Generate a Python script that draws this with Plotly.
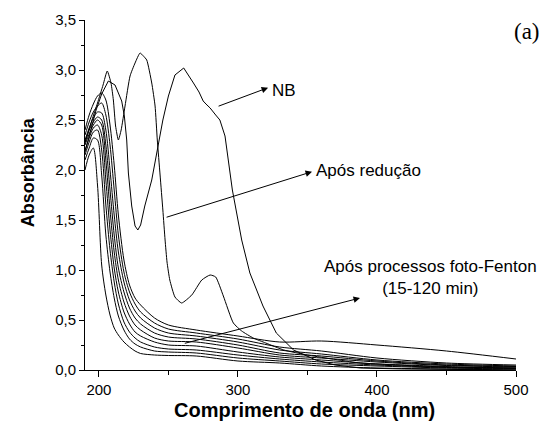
import plotly.graph_objects as go

# ---------------- data ----------------
# Nitrobenzene (NB)
nb_wl = [190, 194, 198, 202, 206.8, 211.6, 214, 216.4, 218.3, 220, 221.2, 223.6, 226, 228, 230, 233,
         238, 243, 246, 250, 254.7, 261, 264, 268, 272, 275, 277, 280, 284, 287, 290.7, 293, 296,
         302.7, 308.6, 318, 327.6, 340, 356, 370, 388, 420, 460, 500]
nb_abs = [2.18, 2.40, 2.60, 2.76, 2.89, 2.85, 2.77, 2.69, 2.54, 2.30, 1.97, 1.64, 1.44, 1.40, 1.45, 1.64,
          1.90, 2.27, 2.50, 2.74, 2.95, 3.02, 2.95, 2.87, 2.78, 2.69, 2.66, 2.62, 2.55, 2.50, 2.34, 2.10, 1.80,
          1.30, 0.97, 0.64, 0.37, 0.20, 0.10, 0.05, 0.02, 0.01, 0.005, 0.0]

# After reduction
red_wl = [190, 195, 199, 203, 206, 208.7, 210.4, 212, 214, 216, 218.8, 222.4, 226, 229.6, 232, 234.4,
          238, 240.4, 242, 244, 246, 247.6, 249, 251, 254.7, 259.5, 266.8, 274, 280, 284, 289.5,
          296.7, 302.7, 311, 320, 333, 350, 388, 420, 460, 500]
red_abs = [2.27, 2.50, 2.67, 2.85, 2.99, 2.87, 2.70, 2.44, 2.30, 2.40, 2.64, 2.94, 3.07, 3.17, 3.14, 3.10,
           2.87, 2.64, 2.30, 1.95, 1.60, 1.30, 1.08, 0.90, 0.73, 0.67, 0.75, 0.90, 0.95, 0.93, 0.74,
           0.47, 0.39, 0.32, 0.27, 0.20, 0.15, 0.07, 0.05, 0.03, 0.02]

# After photo-Fenton (15-120 min)
fen_wl = [190, 193, 196, 199, 202, 205, 208, 211, 214, 218, 222, 226, 230, 240, 250, 270, 300, 330,
          360, 400, 450, 500]
fen_1 = [2.40, 2.55, 2.66, 2.74, 2.77, 2.70, 2.45, 2.05, 1.55, 1.10, 0.85, 0.72, 0.65, 0.52, 0.45, 0.40,
         0.34, 0.28, 0.29, 0.25, 0.19, 0.11]
fen_2 = [2.35, 2.48, 2.58, 2.64, 2.67, 2.55, 2.25, 1.80, 1.35, 0.98, 0.78, 0.66, 0.58, 0.47, 0.41, 0.37,
         0.31, 0.23, 0.19, 0.12, 0.07, 0.05]
fen_3 = [2.30, 2.42, 2.52, 2.58, 2.57, 2.40, 2.00, 1.55, 1.18, 0.88, 0.70, 0.59, 0.52, 0.42, 0.37, 0.34,
         0.28, 0.20, 0.16, 0.10, 0.06, 0.04]
fen_4 = [2.28, 2.40, 2.48, 2.53, 2.50, 2.25, 1.80, 1.35, 1.02, 0.78, 0.62, 0.52, 0.46, 0.37, 0.33, 0.31,
         0.25, 0.17, 0.14, 0.09, 0.05, 0.035]
fen_5 = [2.25, 2.36, 2.45, 2.50, 2.45, 2.10, 1.60, 1.18, 0.90, 0.68, 0.54, 0.45, 0.40, 0.32, 0.29, 0.28,
         0.22, 0.15, 0.12, 0.08, 0.045, 0.03]
fen_6 = [2.20, 2.32, 2.42, 2.45, 2.35, 1.90, 1.40, 1.02, 0.78, 0.58, 0.46, 0.38, 0.34, 0.28, 0.25, 0.24,
         0.18, 0.13, 0.10, 0.06, 0.03, 0.02]
fen_7 = [2.15, 2.28, 2.38, 2.40, 2.20, 1.65, 1.20, 0.88, 0.66, 0.48, 0.38, 0.32, 0.28, 0.23, 0.21, 0.20,
         0.15, 0.11, 0.08, 0.05, 0.025, 0.015]
fen_8 = [2.10, 2.22, 2.32, 2.30, 1.95, 1.35, 0.98, 0.72, 0.54, 0.40, 0.31, 0.26, 0.23, 0.19, 0.18, 0.17,
         0.12, 0.09, 0.06, 0.04, 0.02, 0.01]
fen_9 = [2.00, 2.15, 2.22, 1.85, 1.05, 0.75, 0.55, 0.42, 0.35, 0.28, 0.23, 0.19, 0.165, 0.15, 0.145, 0.14,
         0.09, 0.07, 0.04, 0.02, 0.01, 0.0]
fenton_series = [fen_1, fen_2, fen_3, fen_4, fen_5, fen_6, fen_7, fen_8, fen_9]

y_tickvals = [0, 0.5, 1.0, 1.5, 2.0, 2.5, 3.0, 3.5]
y_ticktext = ["0,0", "0,5", "1,0", "1,5", "2,0", "2,5", "3,0", "3,5"]
x_tickvals = [200, 300, 400, 500]
x_ticktext = ["200", "300", "400", "500"]

# ---------------- figure ----------------
SANS = "Liberation Sans, Arial, sans-serif"
line_style = dict(color="black", width=1)

fig = go.Figure()
for ys in fenton_series:
    fig.add_trace(go.Scatter(x=fen_wl, y=ys, mode="lines",
                             line=dict(color="black", width=1, shape="spline", smoothing=0.8),
                             showlegend=False, hoverinfo="skip"))
fig.add_trace(go.Scatter(x=red_wl, y=red_abs, mode="lines",
                         line=dict(color="black", width=1, shape="spline", smoothing=0.5),
                         showlegend=False, hoverinfo="skip"))
fig.add_trace(go.Scatter(x=nb_wl, y=nb_abs, mode="lines", line=line_style,
                         showlegend=False, hoverinfo="skip"))

arrow_common = dict(xref="x", yref="y", axref="x", ayref="y", text="", showarrow=True,
                    arrowhead=2, arrowsize=1.3, arrowwidth=1, arrowcolor="black")
label_font = dict(family=SANS, size=17, color="black")
annotations = [
    dict(x=321.7, y=2.823, ax=285, ay=2.633, **arrow_common),
    dict(x=353.3, y=1.983, ax=247.6, ay=1.523, **arrow_common),
    dict(x=387.8, y=0.72, ax=260.7, ay=0.263, **arrow_common),
    dict(x=323.0, y=2.80, xref="x", yref="y", text="NB", showarrow=False,
         xanchor="left", yanchor="middle", font=label_font),
    dict(x=354.7, y=2.00, xref="x", yref="y", text="Após redução", showarrow=False,
         xanchor="left", yanchor="middle", font=label_font),
    dict(x=438.5, y=0.925, xref="x", yref="y", text="Após processos foto-Fenton<br>(15-120 min)",
         showarrow=False, xanchor="center", yanchor="middle", align="center", font=label_font),
    dict(x=1.025, y=0.967, xref="paper", yref="paper", text="(a)", showarrow=False,
         xanchor="center", yanchor="middle",
         font=dict(family="Liberation Serif, Times New Roman, serif", size=23, color="black")),
    dict(x=0.51, y=-0.113, xref="paper", yref="paper", text="<b>Comprimento de onda (nm)</b>",
         showarrow=False, xanchor="center", yanchor="middle",
         font=dict(family=SANS, size=20, color="black")),
    dict(x=-0.132, y=0.565, xref="paper", yref="paper", text="<b>Absorbância</b>", textangle=-90,
         showarrow=False, xanchor="center", yanchor="middle",
         font=dict(family=SANS, size=18, color="black")),
]

fig.update_layout(
    width=549, height=425,
    margin=dict(l=85, r=33, t=20, b=55, pad=0),
    paper_bgcolor="white", plot_bgcolor="white",
    annotations=annotations,
    showlegend=False,
    xaxis=dict(range=[190, 500], showline=True, linecolor="black", linewidth=1,
               showgrid=False, zeroline=False, ticks="outside", ticklen=6, tickwidth=1,
               tickcolor="black", tickvals=x_tickvals, ticktext=x_ticktext,
               tickfont=dict(family=SANS, size=15, color="black"),
               minor=dict(tickvals=[250, 350, 450], ticks="outside", ticklen=4,
                          tickcolor="black", tickwidth=1, showgrid=False)),
    yaxis=dict(range=[0, 3.5], showline=True, linecolor="black", linewidth=1,
               showgrid=False, zeroline=False, ticks="outside", ticklen=5, tickwidth=1,
               tickcolor="black", tickvals=y_tickvals, ticktext=y_ticktext,
               tickfont=dict(family=SANS, size=15, color="black"),
               minor=dict(tickvals=[0.25, 0.75, 1.25, 1.75, 2.25, 2.75, 3.25], ticks="outside",
                          ticklen=3, tickcolor="black", tickwidth=1, showgrid=False)),
)

fig.write_html("out.html")
